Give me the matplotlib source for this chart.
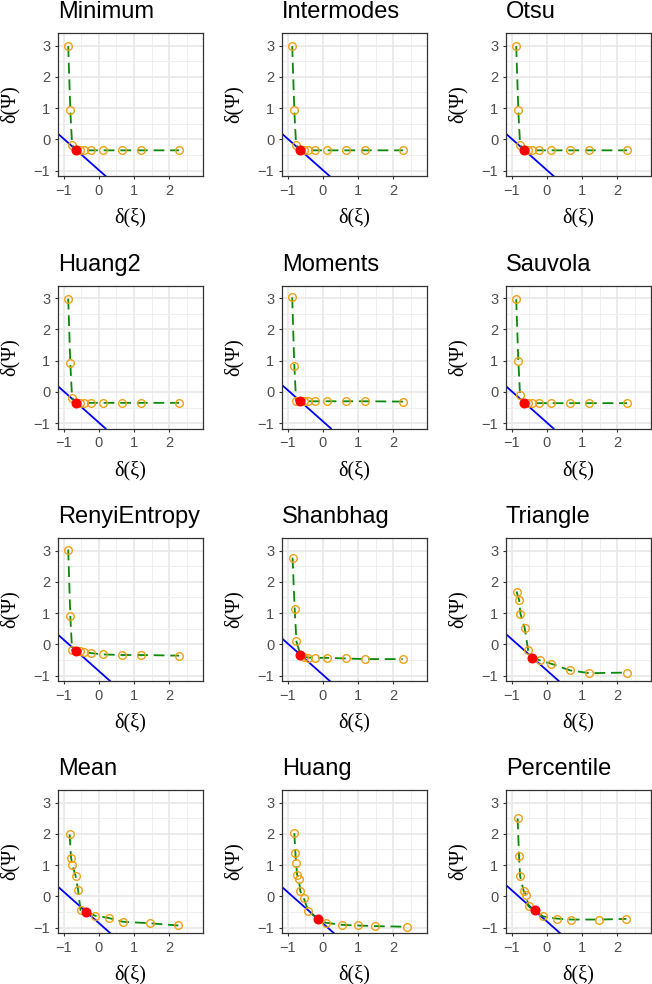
import matplotlib
matplotlib.use("Agg")
import matplotlib.pyplot as plt
from matplotlib.ticker import MultipleLocator

plt.rcParams['font.family'] = ['Liberation Sans', 'DejaVu Sans']

# panel titles, row by row
titles = ["Minimum", "Intermodes", "Otsu",
          "Huang2", "Moments", "Sauvola",
          "RenyiEntropy", "Shanbhag", "Triangle",
          "Mean", "Huang", "Percentile"]

# delta(xi) values
x_common = [-0.87, -0.81, -0.76, -0.64, -0.53, -0.42, -0.21, 0.11, 0.66, 1.21, 2.28]
x_shanbhag = [-0.86, -0.80, -0.75, -0.64, -0.53, -0.41, -0.21, 0.12, 0.66, 1.20, 2.27]
x_triangle = [-0.86, -0.79, -0.75, -0.63, -0.53, -0.41, -0.20, 0.13, 0.66, 1.21, 2.28]
x_mean = [-0.83, -0.79, -0.75, -0.66, -0.59, -0.52, -0.36, -0.10, 0.28, 0.68, 1.46, 2.26]
x_huang = [-0.81, -0.78, -0.76, -0.73, -0.68, -0.64, -0.54, -0.41, -0.15, 0.08, 0.54, 1.00, 1.48, 2.39]
x_percentile = [-0.83, -0.79, -0.76, -0.66, -0.59, -0.52, -0.35, -0.11, 0.28, 0.68, 1.47, 2.26]

# delta(Psi) values
y_minimum = [2.98, 0.93, -0.18, -0.34, -0.35, -0.35, -0.35, -0.35, -0.35, -0.35, -0.35]
y_intermodes = [2.98, 0.93, -0.18, -0.34, -0.35, -0.35, -0.35, -0.35, -0.35, -0.35, -0.35]
y_otsu = [2.98, 0.93, -0.18, -0.34, -0.35, -0.35, -0.35, -0.35, -0.35, -0.35, -0.35]
y_huang2 = [2.98, 0.91, -0.19, -0.34, -0.35, -0.35, -0.35, -0.35, -0.35, -0.35, -0.35]
y_moments = [3.02, 0.84, -0.28, -0.30, -0.30, -0.30, -0.30, -0.30, -0.30, -0.30, -0.31]
y_sauvola = [2.96, 1.00, -0.11, -0.34, -0.36, -0.36, -0.36, -0.36, -0.36, -0.36, -0.36]
y_renyi = [3.03, 0.90, -0.19, -0.21, -0.22, -0.24, -0.28, -0.32, -0.34, -0.34, -0.36]
y_shanbhag = [2.77, 1.14, 0.10, -0.33, -0.40, -0.42, -0.43, -0.43, -0.45, -0.47, -0.47]
y_triangle = [1.69, 1.43, 0.98, 0.53, -0.19, -0.42, -0.51, -0.62, -0.83, -0.92, -0.90]
y_mean = [1.98, 1.24, 1.00, 0.65, 0.21, -0.44, -0.49, -0.62, -0.69, -0.81, -0.86, -0.93]
y_huang = [2.02, 1.40, 1.06, 0.69, 0.54, 0.16, -0.06, -0.48, -0.71, -0.84, -0.91, -0.93, -0.95, -0.97]
y_percentile = [2.49, 1.30, 0.65, 0.18, 0.05, -0.32, -0.45, -0.64, -0.71, -0.74, -0.74, -0.72]

# index of the selected (red) point in each panel
best_idx = [3, 3, 3, 3, 3, 3, 3, 3, 5, 6, 8, 6]

xs = [x_common, x_common, x_common, x_common, x_common, x_common,
      x_common, x_shanbhag, x_triangle, x_mean, x_huang, x_percentile]
ys = [y_minimum, y_intermodes, y_otsu, y_huang2, y_moments, y_sauvola,
      y_renyi, y_shanbhag, y_triangle, y_mean, y_huang, y_percentile]

W, H = 652, 984
fig = plt.figure(figsize=(W / 100, H / 100), dpi=100)

col_left = [58, 282, 506]
row_top = [33, 285.5, 538, 790]
pw, ph = 145, 143

for i, title in enumerate(titles):
    r, c = divmod(i, 3)
    ax = fig.add_axes([col_left[c] / W, 1 - (row_top[r] + ph) / H, pw / W, ph / H])
    x, y = xs[i], ys[i]
    k = best_idx[i]

    ax.set_xlim(-1.16, 2.96)
    ax.set_ylim(-1.17, 3.40)
    ax.xaxis.set_major_locator(MultipleLocator(1))
    ax.xaxis.set_minor_locator(MultipleLocator(0.5))
    ax.yaxis.set_major_locator(MultipleLocator(1))
    ax.yaxis.set_minor_locator(MultipleLocator(0.5))
    ax.grid(which='major', color='#E8E8E8', lw=1.2)
    ax.grid(which='minor', color='#EBEBEB', lw=0.6)
    ax.set_axisbelow(True)
    ax.tick_params(which='major', length=2.5, width=0.8, color='#333333',
                   labelsize=10.5, labelcolor='#4D4D4D', pad=3)
    ax.tick_params(which='minor', length=0)
    for s in ax.spines.values():
        s.set_color('#333333')
        s.set_linewidth(0.9)

    ax.axline((x[k], y[k]), slope=-1, color='blue', lw=1.3, zorder=2)
    ax.plot(x, y, color='#0A8A0A', lw=1.3, ls=(0, (6, 3.2)), zorder=3)
    ax.plot(x, y, 'o', ms=5.5, mfc='none', mec='#EFA014', mew=1.0, zorder=4)
    ax.plot(x[k], y[k], 'o', ms=6.2, color='red', zorder=5)

    ax.set_title(title, loc='left', fontsize=17, pad=10.5)
    ax.set_xlabel('δ(ξ)', family='Liberation Serif', fontsize=14.5)
    ax.set_ylabel('δ(Ψ)', family='Liberation Serif', fontsize=14.5)
    ax.xaxis.set_label_coords(0.5, -0.225)
    ax.yaxis.set_label_coords(-38 / pw, 0.5)

fig.savefig('out.png', dpi=100, facecolor='white')
